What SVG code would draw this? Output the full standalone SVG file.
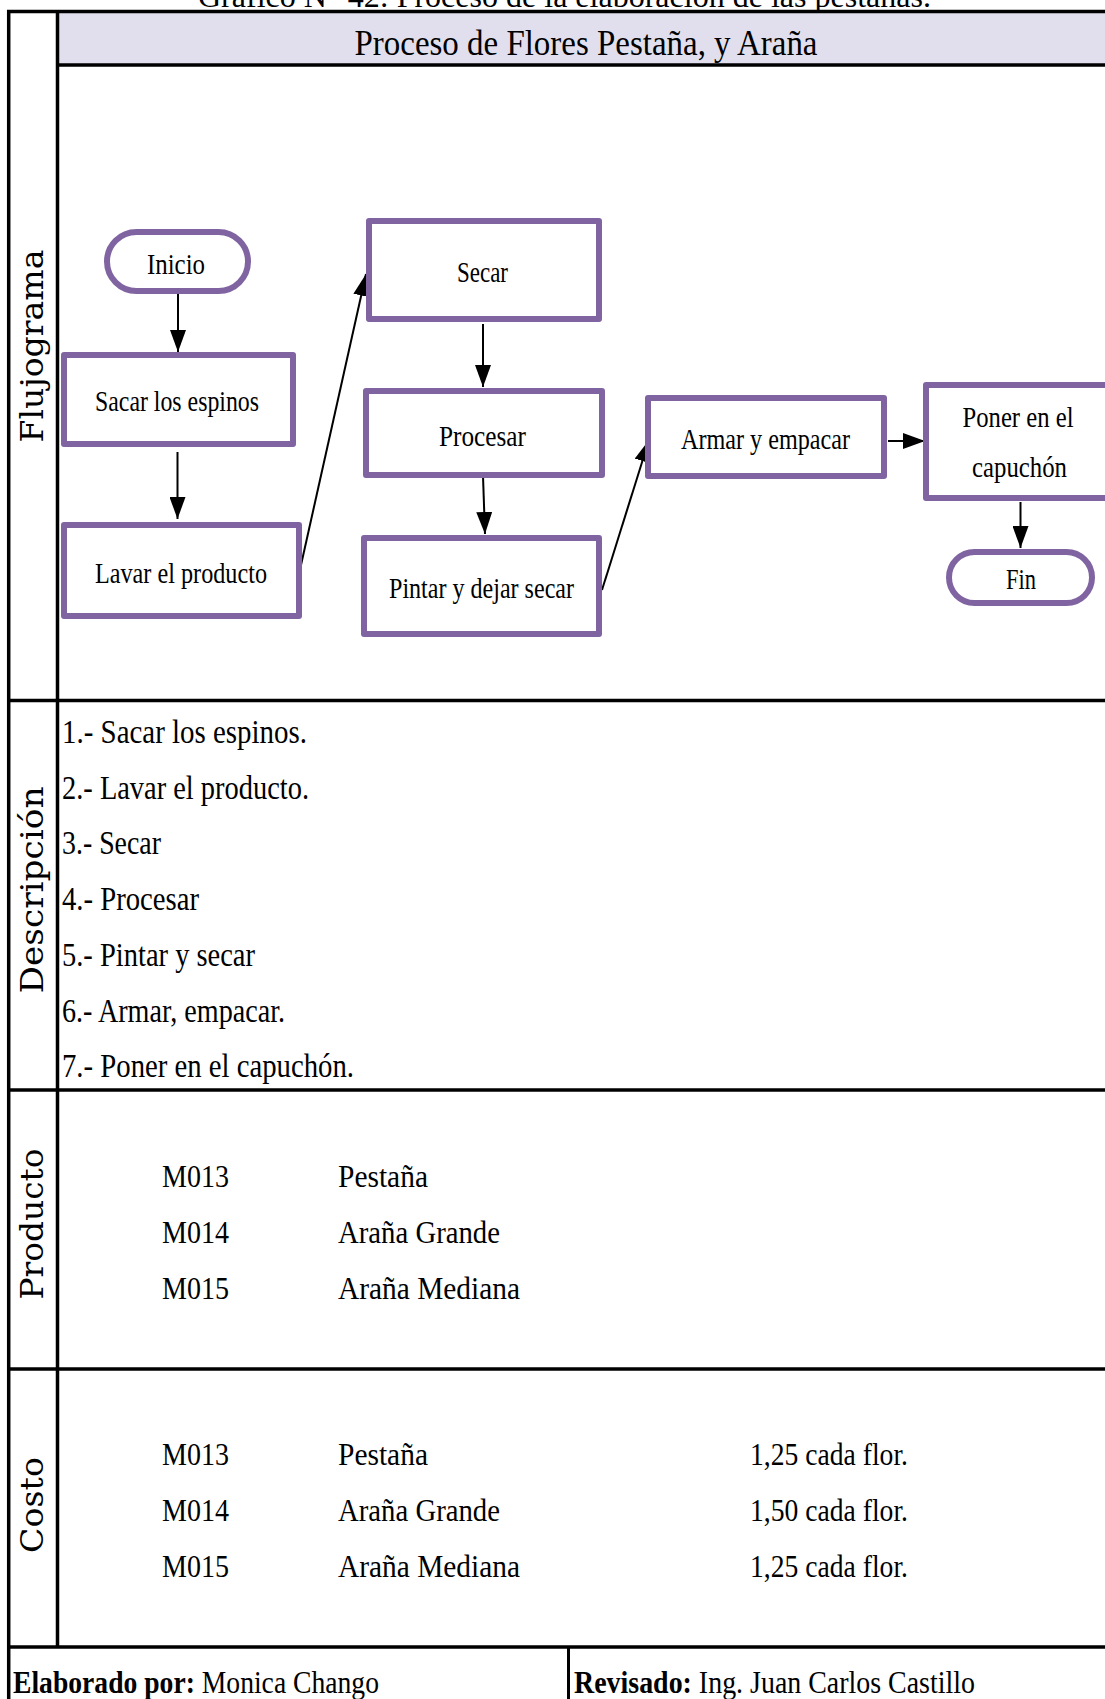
<svg xmlns="http://www.w3.org/2000/svg" width="1105" height="1699" viewBox="0 0 1105 1699">
<style>
.frame{stroke:#000;stroke-width:3.5;fill:none}
.node{fill:#fff;stroke:#8064A2;stroke-width:6;stroke-linejoin:round}
.t{font-family:"Liberation Serif","Times New Roman",serif;fill:#000}
.bx{font-size:29px;text-anchor:middle}
.side{font-family:"DejaVu Serif","Liberation Serif",serif;font-size:31px;text-anchor:middle;fill:#000}
.desc{font-size:33px}
.row{font-size:31px}
.b{font-weight:bold}
.conn{stroke:#000;stroke-width:2;fill:none}
</style>
<defs>
<marker id="arr" markerUnits="userSpaceOnUse" markerWidth="22" markerHeight="16" refX="22" refY="8" orient="auto">
<path d="M0,0 L22,8 L0,16 z" fill="#000"/>
</marker>
</defs>
<rect width="1105" height="1699" fill="#fff"/>

<g id="caption">
<text class="t" x="198" y="7" font-size="32" textLength="733" lengthAdjust="spacingAndGlyphs">Gráfico N° 42: Proceso de la elaboración de las pestañas.</text>
</g>

<g id="frame">
<rect x="58" y="12" width="1060" height="53" fill="#E1DFED"/>
<line class="frame" x1="7" y1="11.5" x2="1110" y2="11.5"/>
<line class="frame" x1="57.5" y1="65" x2="1110" y2="65"/>
<line class="frame" x1="8.7" y1="10" x2="8.7" y2="1699"/>
<line class="frame" x1="57.5" y1="10" x2="57.5" y2="1647"/>
<line class="frame" x1="7" y1="700.5" x2="1110" y2="700.5"/>
<line class="frame" x1="7" y1="1090" x2="1110" y2="1090"/>
<line class="frame" x1="7" y1="1369" x2="1110" y2="1369"/>
<line class="frame" x1="7" y1="1647" x2="1110" y2="1647"/>
<line class="frame" x1="568.5" y1="1647" x2="568.5" y2="1699" style="stroke-width:3"/>
</g>

<g id="header">
<text class="t" x="586" y="55" font-size="35" text-anchor="middle" textLength="463" lengthAdjust="spacingAndGlyphs">Proceso de Flores Pestaña, y Araña</text>
</g>

<g id="side-labels">
<text class="side" transform="translate(43,346) rotate(-90)" textLength="193" lengthAdjust="spacingAndGlyphs">Flujograma</text>
<text class="side" transform="translate(43,890) rotate(-90)" textLength="207" lengthAdjust="spacingAndGlyphs">Descripción</text>
<text class="side" transform="translate(43,1224) rotate(-90)" textLength="151" lengthAdjust="spacingAndGlyphs">Producto</text>
<text class="side" transform="translate(43,1505) rotate(-90)" textLength="96" lengthAdjust="spacingAndGlyphs">Costo</text>
</g>

<g id="connectors">
<line class="conn" x1="178" y1="294" x2="178" y2="352" marker-end="url(#arr)"/>
<line class="conn" x1="177.5" y1="452" x2="177.5" y2="519" marker-end="url(#arr)"/>
<line class="conn" x1="299" y1="574" x2="366" y2="274" marker-end="url(#arr)"/>
<line class="conn" x1="483" y1="324" x2="483" y2="387" marker-end="url(#arr)"/>
<line class="conn" x1="483" y1="476" x2="485" y2="534" marker-end="url(#arr)"/>
<line class="conn" x1="602" y1="590" x2="649" y2="440" marker-end="url(#arr)"/>
<line class="conn" x1="888" y1="441" x2="925" y2="441" marker-end="url(#arr)"/>
<line class="conn" x1="1020.5" y1="502" x2="1020.5" y2="548" marker-end="url(#arr)"/>
</g>

<g id="n-inicio">
<rect class="node" x="107" y="232" width="141" height="59" rx="29.5"/>
<text class="t bx" x="176" y="274" textLength="58" lengthAdjust="spacingAndGlyphs">Inicio</text>
</g>
<g id="n-sacar">
<rect class="node" x="64" y="355" width="229" height="89"/>
<text class="t bx" x="177" y="411" textLength="164" lengthAdjust="spacingAndGlyphs">Sacar los espinos</text>
</g>
<g id="n-lavar">
<rect class="node" x="64" y="525" width="235" height="91"/>
<text class="t bx" x="181" y="583" textLength="172" lengthAdjust="spacingAndGlyphs">Lavar el producto</text>
</g>
<g id="n-secar">
<rect class="node" x="369" y="221" width="230" height="98"/>
<text class="t bx" x="482.5" y="282" textLength="51" lengthAdjust="spacingAndGlyphs">Secar</text>
</g>
<g id="n-procesar">
<rect class="node" x="366" y="391" width="236" height="84"/>
<text class="t bx" x="482.5" y="446" textLength="87" lengthAdjust="spacingAndGlyphs">Procesar</text>
</g>
<g id="n-pintar">
<rect class="node" x="364" y="538" width="235" height="96"/>
<text class="t bx" x="481.5" y="598" textLength="185" lengthAdjust="spacingAndGlyphs">Pintar y dejar secar</text>
</g>
<g id="n-armar">
<rect class="node" x="648" y="398" width="236" height="78"/>
<text class="t bx" x="765.5" y="449" textLength="169" lengthAdjust="spacingAndGlyphs">Armar y empacar</text>
</g>
<g id="n-poner">
<rect class="node" x="926" y="385" width="186" height="113"/>
<text class="t bx" x="1018" y="427" textLength="111" lengthAdjust="spacingAndGlyphs">Poner en el</text>
<text class="t bx" x="1019.5" y="477" textLength="95" lengthAdjust="spacingAndGlyphs">capuchón</text>
</g>
<g id="n-fin">
<rect class="node" x="949" y="552" width="143" height="51" rx="25.5"/>
<text class="t bx" x="1021" y="589" textLength="30" lengthAdjust="spacingAndGlyphs">Fin</text>
</g>

<g id="descripcion">
<text class="t desc" x="62" y="743" textLength="245" lengthAdjust="spacingAndGlyphs">1.- Sacar los espinos.</text>
<text class="t desc" x="62" y="799" textLength="247" lengthAdjust="spacingAndGlyphs">2.- Lavar el producto.</text>
<text class="t desc" x="62" y="854" textLength="99" lengthAdjust="spacingAndGlyphs">3.- Secar</text>
<text class="t desc" x="62" y="910" textLength="137" lengthAdjust="spacingAndGlyphs">4.- Procesar</text>
<text class="t desc" x="62" y="966" textLength="193" lengthAdjust="spacingAndGlyphs">5.- Pintar y secar</text>
<text class="t desc" x="62" y="1022" textLength="223" lengthAdjust="spacingAndGlyphs">6.- Armar, empacar.</text>
<text class="t desc" x="62" y="1077" textLength="292" lengthAdjust="spacingAndGlyphs">7.- Poner en el capuchón.</text>
</g>

<g id="producto">
<text class="t row" x="162" y="1187" textLength="67" lengthAdjust="spacingAndGlyphs">M013</text>
<text class="t row" x="338" y="1187" textLength="90" lengthAdjust="spacingAndGlyphs">Pestaña</text>
<text class="t row" x="162" y="1243" textLength="67" lengthAdjust="spacingAndGlyphs">M014</text>
<text class="t row" x="338" y="1243" textLength="162" lengthAdjust="spacingAndGlyphs">Araña Grande</text>
<text class="t row" x="162" y="1299" textLength="67" lengthAdjust="spacingAndGlyphs">M015</text>
<text class="t row" x="338" y="1299" textLength="182" lengthAdjust="spacingAndGlyphs">Araña Mediana</text>
</g>

<g id="costo">
<text class="t row" x="162" y="1465" textLength="67" lengthAdjust="spacingAndGlyphs">M013</text>
<text class="t row" x="338" y="1465" textLength="90" lengthAdjust="spacingAndGlyphs">Pestaña</text>
<text class="t row" x="750" y="1465" textLength="158" lengthAdjust="spacingAndGlyphs">1,25 cada flor.</text>
<text class="t row" x="162" y="1521" textLength="67" lengthAdjust="spacingAndGlyphs">M014</text>
<text class="t row" x="338" y="1521" textLength="162" lengthAdjust="spacingAndGlyphs">Araña Grande</text>
<text class="t row" x="750" y="1521" textLength="158" lengthAdjust="spacingAndGlyphs">1,50 cada flor.</text>
<text class="t row" x="162" y="1577" textLength="67" lengthAdjust="spacingAndGlyphs">M015</text>
<text class="t row" x="338" y="1577" textLength="182" lengthAdjust="spacingAndGlyphs">Araña Mediana</text>
<text class="t row" x="750" y="1577" textLength="158" lengthAdjust="spacingAndGlyphs">1,25 cada flor.</text>
</g>

<g id="footer">
<text class="t row" x="13" y="1693" textLength="366" lengthAdjust="spacingAndGlyphs"><tspan class="b">Elaborado por:</tspan> Monica Chango</text>
<text class="t row" x="574" y="1693" textLength="401" lengthAdjust="spacingAndGlyphs"><tspan class="b">Revisado:</tspan> Ing. Juan Carlos Castillo</text>
</g>
</svg>
